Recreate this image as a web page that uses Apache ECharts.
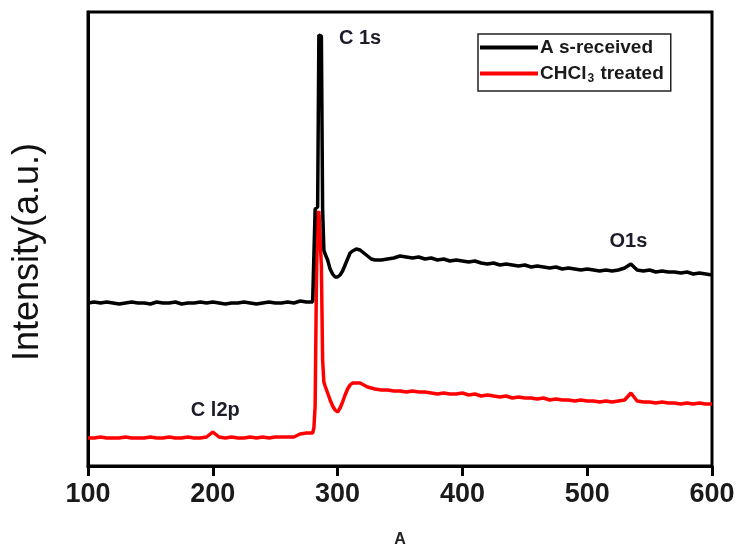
<!DOCTYPE html>
<html>
<head>
<meta charset="utf-8">
<script src="https://cdn.jsdelivr.net/npm/echarts@6/dist/echarts.min.js"></script>
<style>
html,body{margin:0;padding:0;background:#fff;}
#chart{width:738px;height:554px;}
</style>
</head>
<body>
<div id="chart"></div>
<script>
// Binding energy sampling (x)
var energy = [
  100,105,110,115,120,125,130,135,140,145,150,155,160,165,170,175,180,185,190,195,
  200,205,210,215,220,225,230,235,240,245,250,255,260,265,270,275,280,
  281,282,283,284,285,286,287,288,289,290,
  292,294,296,298,300,302,304,306,308,310,
  312,315,318,321,324,327,330,335,
  340,345,350,355,360,365,370,375,380,385,390,395,400,405,410,415,420,425,430,435,
  440,445,450,455,460,465,470,475,480,485,490,495,500,505,510,515,520,525,530,535,
  540,545,550,555,560,565,570,575,580,585,590,595,600
];
// As-received intensity (a.u.)
var asReceived = [
  163,164,163,164,163,162,163,164,163,163,162,164,163,163,164,162,163,163,164,163,
  164,163,162,163,163,164,163,162,163,164,163,163,164,163,165,164,164,
  164,257,258,259,431,433,430,257,216,212,
  206,197,192,189,189,191,195,201,207,213,
  215,217,216,213,210,207,206,206,
  207,208,210,209,208,209,207,208,206,207,205,206,205,204,205,203,202,203,201,202,
  201,200,201,199,200,199,198,199,197,198,197,196,197,196,195,196,195,196,198,202,
  196,195,196,194,195,194,194,193,194,192,193,192,191
];
// CHCl3 treated intensity (a.u.)
var treated = [
  28,28,29,28,28,28,29,28,28,28,29,28,28,29,28,28,29,28,28,29,
  34,29,28,29,28,28,29,28,29,28,29,29,29,29,32,33,33,
  38,60,180,250,255,256,200,106,84,80,
  73,66,60,56,54,58,64,71,77,81,
  83,83,83,81,79,78,77,76,
  76,75,75,74,75,74,74,73,72,73,72,72,73,71,72,70,71,70,69,70,
  68,69,68,68,67,68,66,67,66,66,65,66,65,65,64,65,64,65,66,73,
  65,64,64,63,64,63,63,62,63,62,63,62,62
];
var seriesNames = ['A s-received', 'CHCl3 treated'];
var xTicks = [100, 200, 300, 400, 500, 600];
var peakLabels = [
  {name: 'C 1s', x: 318, y: 428},
  {name: 'O1s', x: 533, y: 225},
  {name: 'C l2p', x: 202, y: 56}
];

function pairs(xs, ys){ return xs.map(function(x,i){ return [x, ys[i]]; }); }

var chart = echarts.init(document.getElementById('chart'), null, {renderer:'canvas'});
var option = {
  animation: false,
  backgroundColor: '#fff',
  grid: {left: 88, right: 26, top: 12, bottom: 88, show: true, borderColor: '#000', borderWidth: 3, backgroundColor: 'transparent'},
  legend: {
    show: true,
    orient: 'vertical',
    left: 478, top: 34,
    padding: [4, 7, 6, 2],
    itemGap: 5,
    itemWidth: 58, itemHeight: 4,
    icon: 'rect',
    borderColor: '#222', borderWidth: 1.5,
    data: seriesNames,
    formatter: function(n){
      if (n === 'CHCl3 treated') return '{n|CHCl}{s|3}{n| treated}';
      return '{n|' + n + '}';
    },
    textStyle: {
      padding: [0,0,0,-3],
      rich: {
        n: {fontFamily: 'Liberation Sans', fontWeight: 'bold', fontSize: 19, color: '#1a1a1a', lineHeight: 22},
        s: {fontFamily: 'Liberation Sans', fontWeight: 'bold', fontSize: 12, color: '#1a1a1a', lineHeight: 22, padding: [11,1,0,1]}
      }
    }
  },
  xAxis: {
    type: 'value', min: xTicks[0], max: xTicks[xTicks.length-1], interval: 100,
    name: 'A', nameLocation: 'middle', nameGap: 66,
    nameTextStyle: {fontFamily: 'Liberation Sans', fontWeight: 'bold', fontSize: 16, color: '#222'},
    axisLine: {show: true, lineStyle: {color: '#000', width: 3}},
    axisTick: {show: true, inside: false, length: 10, lineStyle: {color: '#000', width: 3}},
    axisLabel: {margin: 15, fontFamily: 'Liberation Sans', fontWeight: 'bold', fontSize: 27, color: '#1a1a1a'},
    splitLine: {show: false}
  },
  yAxis: {
    type: 'value', min: 0, max: 454,
    name: 'Intensity(a.u.)', nameLocation: 'middle', nameGap: 42, nameRotate: 90,
    nameTextStyle: {fontFamily: 'Liberation Sans', fontSize: 36, color: '#111', padding: [0, 26, 0, 0]},
    axisLine: {show: true, lineStyle: {color: '#000', width: 3}},
    axisTick: {show: false},
    axisLabel: {show: false},
    splitLine: {show: false}
  },
  series: [
    {
      name: seriesNames[0], type: 'line', data: pairs(energy, asReceived),
      showSymbol: false, symbol: 'none', z: 3,
      lineStyle: {color: '#000', width: 3.5}, itemStyle: {color: '#000'},
      markPoint: {
        symbol: 'circle', symbolSize: 0, silent: true,
        label: {show: true, position: 'inside', formatter: '{b}', fontFamily: 'Liberation Sans', fontWeight: 'bold', fontSize: 20, color: '#1c1c2a'},
        data: [
          {name: peakLabels[0].name, coord: [peakLabels[0].x, peakLabels[0].y]},
          {name: peakLabels[1].name, coord: [peakLabels[1].x, peakLabels[1].y]}
        ]
      }
    },
    {
      name: seriesNames[1], type: 'line', data: pairs(energy, treated),
      showSymbol: false, symbol: 'none', z: 2,
      lineStyle: {color: '#ff0000', width: 3.5}, itemStyle: {color: '#ff0000'},
      markPoint: {
        symbol: 'circle', symbolSize: 0, silent: true,
        label: {show: true, position: 'inside', formatter: '{b}', fontFamily: 'Liberation Sans', fontWeight: 'bold', fontSize: 20, color: '#1c1c2a'},
        data: [
          {name: peakLabels[2].name, coord: [peakLabels[2].x, peakLabels[2].y]}
        ]
      }
    }
  ]
};
chart.setOption(option);
</script>
</body>
</html>
